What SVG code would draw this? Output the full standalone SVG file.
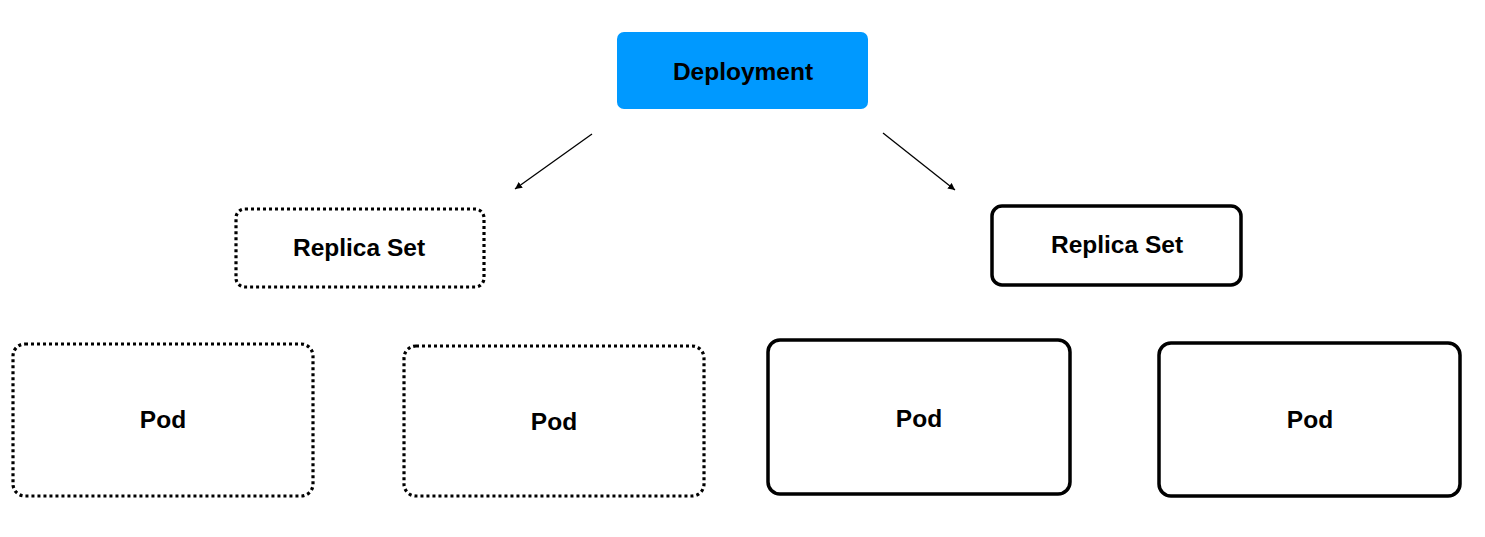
<svg xmlns="http://www.w3.org/2000/svg" width="1485" height="537" viewBox="0 0 1485 537">
<style>
.lbl{font-family:"Liberation Sans",Arial,Helvetica,sans-serif;font-weight:bold;font-size:24.5px;fill:#000;text-anchor:middle}
.dot{fill:#fff;stroke:#000;stroke-width:3.2;stroke-dasharray:3 3}
.solid{fill:#fff;stroke:#000;stroke-width:3.5}
.conn{stroke:#000;stroke-width:1.3;fill:none}
</style>
<defs>
<marker id="ah" viewBox="0 0 10 10" refX="10" refY="5" markerWidth="7" markerHeight="7" markerUnits="userSpaceOnUse" orient="auto">
<path d="M0,0 L10,5 L0,10 Z" fill="#000"/>
</marker>
</defs>
<rect width="1485" height="537" fill="#fff"/>
<g id="connectors">
<line class="conn" x1="592" y1="134" x2="515" y2="189" marker-end="url(#ah)"/>
<line class="conn" x1="883" y1="133" x2="955" y2="190" marker-end="url(#ah)"/>
</g>
<g id="deployment">
<rect x="617" y="32" width="251" height="77" rx="7" fill="#0099FF"/>
<text class="lbl" x="743" y="80">Deployment</text>
</g>
<g id="replicaset-old">
<rect class="dot" x="236" y="209" width="248" height="78" rx="9"/>
<text class="lbl" x="359" y="256">Replica Set</text>
</g>
<g id="replicaset-new">
<rect class="solid" x="992" y="206" width="249" height="79" rx="10"/>
<text class="lbl" x="1117" y="253">Replica Set</text>
</g>
<g id="pod1">
<rect class="dot" x="13" y="344" width="300" height="152" rx="12"/>
<text class="lbl" x="163" y="428">Pod</text>
</g>
<g id="pod2">
<rect class="dot" x="404" y="346" width="300" height="150" rx="12"/>
<text class="lbl" x="554" y="430">Pod</text>
</g>
<g id="pod3">
<rect class="solid" x="768" y="340" width="302" height="154" rx="12"/>
<text class="lbl" x="919" y="427">Pod</text>
</g>
<g id="pod4">
<rect class="solid" x="1159" y="343" width="301" height="153" rx="12"/>
<text class="lbl" x="1310" y="428">Pod</text>
</g>
</svg>
